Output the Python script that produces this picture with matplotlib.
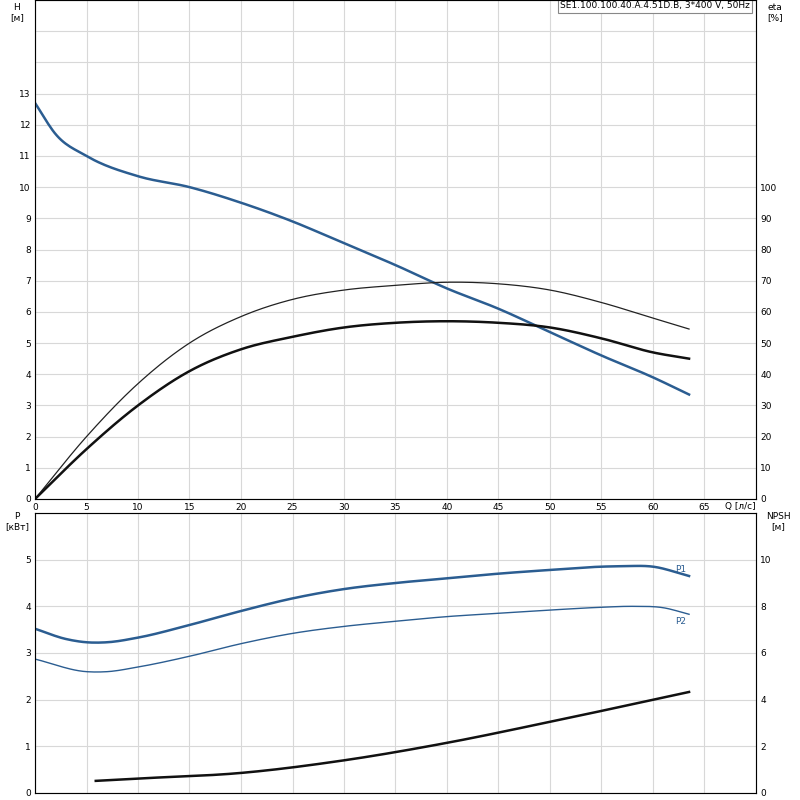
import numpy as np
import matplotlib
matplotlib.use("Agg")
import matplotlib.pyplot as plt

q_h = [0, 2, 5, 10, 15, 20, 25, 30, 35, 40, 45, 50, 55, 60, 63.5]
h = [12.7, 11.7, 11.0, 10.35, 10.0, 9.5, 8.9, 8.2, 7.5, 6.75, 6.1, 5.35, 4.6, 3.9, 3.35]
q_e = [0, 5, 10, 15, 20, 25, 30, 35, 40, 45, 50, 55, 60, 63.5]
eta_a = [0, 20, 37, 50, 58.5, 64, 67, 68.5, 69.5, 69, 67, 63, 58, 54.5]
eta_b = [0, 16, 30, 41, 48, 52, 55, 56.5, 57, 56.5, 55, 51.5, 47, 45]
q_p = [0, 3, 5, 7, 10, 15, 20, 25, 30, 35, 40, 45, 50, 55, 57, 60, 63.5]
p1 = [3.52, 3.3, 3.23, 3.23, 3.33, 3.6, 3.9, 4.17, 4.37, 4.5, 4.6, 4.7, 4.78, 4.85, 4.86, 4.85, 4.65]
q_p2 = [0, 5, 7, 10, 15, 20, 25, 30, 35, 40, 45, 50, 55, 58, 61, 63.5]
p2 = [2.87, 2.6, 2.6, 2.7, 2.93, 3.2, 3.42, 3.57, 3.68, 3.78, 3.85, 3.92, 3.98, 4.0, 3.97, 3.83]
q_n = [5.9, 10, 20, 30, 40, 50, 63.5]
npsh = [0.52, 0.62, 0.86, 1.4, 2.15, 3.05, 4.33]

def smooth(x, y, n=300):
    # monotone-free cubic Hermite (Catmull-Rom style) through the read points
    x = np.asarray(x, float); y = np.asarray(y, float)
    m = np.gradient(y, x)
    xs = np.linspace(x[0], x[-1], n)
    i = np.clip(np.searchsorted(x, xs) - 1, 0, len(x) - 2)
    hh = x[i + 1] - x[i]
    t = (xs - x[i]) / hh
    h00 = 2*t**3 - 3*t**2 + 1; h10 = t**3 - 2*t**2 + t
    h01 = -2*t**3 + 3*t**2; h11 = t**3 - t**2
    return xs, h00*y[i] + h10*hh*m[i] + h01*y[i+1] + h11*hh*m[i+1]

blue = "#2b5d91"
fs = 6.5
fig = plt.figure(figsize=(8, 8), dpi=100)
ax1 = fig.add_axes([35/800, 1-499/800, 721/800, 499/800])
ax2 = fig.add_axes([35/800, 1-793/800, 721/800, 280/800])
for ax in (ax1, ax2):
    ax.set_xlim(0, 70)
    ax.set_xticks(np.arange(0, 70, 5))
    ax.grid(True, color="#d8d8d8", lw=0.8)
    ax.tick_params(labelsize=fs, length=0, pad=3)
    for s in ax.spines.values():
        s.set_color("#999999")
ax1.set_ylim(0, 16)
ax1.set_yticks(range(0, 17))
ax1.set_yticklabels([str(i) if i <= 13 else "" for i in range(17)])
ax1.set_xticklabels([str(i) for i in range(0, 70, 5)])
ax1.plot(*smooth(q_h, h), color=blue, lw=1.8)
r1 = ax1.twinx()
r1.set_ylim(0, 160)
r1.set_yticks(range(0, 110, 10))
r1.tick_params(labelsize=fs, length=0, pad=3)
r1.plot(*smooth(q_e, eta_a), color="#222222", lw=0.9)
r1.plot(*smooth(q_e, eta_b), color="#111111", lw=1.8)
fig.text(725/800, 1-507/800, "Q [л/с]", fontsize=fs, ha="left", va="center")
fig.text(17/800, 1-3/800, "H\n[м]", fontsize=fs, ha="center", va="top")
fig.text(775/800, 1-3/800, "eta\n[%]", fontsize=fs, ha="center", va="top")
ax1.text(0.992, 0.997, "SE1.100.100.40.A.4.51D.B, 3*400 V, 50Hz", transform=ax1.transAxes,
         fontsize=fs, ha="right", va="top",
         bbox=dict(boxstyle="square,pad=0.25", fc="white", ec="#888888", lw=0.8))

ax2.set_ylim(0, 6)
ax2.set_yticks(range(0, 7))
ax2.set_yticklabels([str(i) if i <= 5 else "" for i in range(7)])
ax2.set_xticklabels([])
ax2.plot(*smooth(q_p, p1), color=blue, lw=1.8)
ax2.plot(*smooth(q_p2, p2), color=blue, lw=1.0)
ax2.text(63.2, p1[-1] + 0.05, "P1", color=blue, fontsize=fs, ha="right", va="bottom")
ax2.text(63.2, p2[-1] - 0.05, "P2", color=blue, fontsize=fs, ha="right", va="top")
r2 = ax2.twinx()
r2.set_ylim(0, 12)
r2.set_yticks(range(0, 12, 2))
r2.tick_params(labelsize=fs, length=0, pad=3)
r2.plot(*smooth(q_n, npsh), color="#111111", lw=1.8)
fig.text(17/800, 1-512/800, "P\n[кВт]", fontsize=fs, ha="center", va="top")
fig.text(778/800, 1-512/800, "NPSH\n[м]", fontsize=fs, ha="center", va="top")
fig.savefig("out.png", dpi=100)
